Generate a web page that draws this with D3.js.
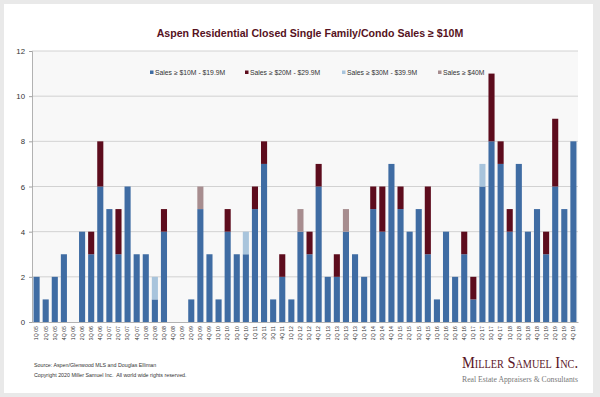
<!DOCTYPE html>
<html><head><meta charset="utf-8">
<script src="https://cdn.jsdelivr.net/npm/d3@7"></script>
<style>
html,body{margin:0;padding:0;background:#e9e9e9;}
svg{display:block;}
</style></head>
<body>
<svg id="chart" width="600" height="397"></svg>
<script>
const quarters = ["1Q 05","2Q 05","3Q 05","4Q 05","1Q 06","2Q 06","3Q 06","4Q 06","1Q 07","2Q 07","3Q 07","4Q 07",
"1Q 08","2Q 08","3Q 08","4Q 08","1Q 09","2Q 09","3Q 09","4Q 09","1Q 10","2Q 10","3Q 10","4Q 10",
"1Q 11","2Q 11","3Q 11","4Q 11","1Q 12","2Q 12","3Q 12","4Q 12","1Q 13","2Q 13","3Q 13","4Q 13",
"1Q 14","2Q 14","3Q 14","4Q 14","1Q 15","2Q 15","3Q 15","4Q 15","1Q 16","2Q 16","3Q 16","4Q 16",
"1Q 17","2Q 17","3Q 17","4Q 17","1Q 18","2Q 18","3Q 18","4Q 18","1Q 19","2Q 19","3Q 19","4Q 19"];
const sales10to19 = [2,1,2,3, 0,4,3,6, 5,3,6,3, 3,1,4,0, 0,1,5,3, 1,4,3,3, 5,7,1,2, 1,4,3,6, 2,2,4,3, 2,5,4,7, 5,4,5,3, 1,4,2,3, 1,6,8,7, 4,7,4,5, 3,6,5,8];
const sales20to29 = [0,0,0,0, 0,0,1,2, 0,2,0,0, 0,0,1,0, 0,0,0,0, 0,1,0,0, 1,1,0,1, 0,0,1,1, 0,1,0,0, 0,1,2,0, 1,0,0,3, 0,0,0,1, 1,0,3,1, 1,0,0,0, 1,3,0,0];
const sales30to39 = [0,0,0,0, 0,0,0,0, 0,0,0,0, 0,1,0,0, 0,0,0,0, 0,0,0,1, 0,0,0,0, 0,0,0,0, 0,0,0,0, 0,0,0,0, 0,0,0,0, 0,0,0,0, 0,1,0,0, 0,0,0,0, 0,0,0,0];
const sales40plus = [0,0,0,0, 0,0,0,0, 0,0,0,0, 0,0,0,0, 0,0,1,0, 0,0,0,0, 0,0,0,0, 0,1,0,0, 0,0,1,0, 0,0,0,0, 0,0,0,0, 0,0,0,0, 0,0,0,0, 0,0,0,0, 0,0,0,0];
const seriesNames = ["Sales \u2265 $10M - $19.9M","Sales \u2265 $20M - $29.9M","Sales \u2265 $30M - $39.9M","Sales \u2265 $40M"];
const seriesColors = ["#3f6ca3","#5d0c1d","#a8c4dc","#a78d8f"];
const yTicks = [0,2,4,6,8,10,12];

const svg = d3.select("#chart");
// card
svg.append("rect").attr("x",4).attr("y",4).attr("width",589).attr("height",389).attr("fill","#ffffff");

const m = {left:32, right:578, top:51, bottom:322};
const x = d3.scaleBand().domain(quarters).range([m.left, m.right]).paddingInner(0.33).paddingOuter(0.17);
const y = d3.scaleLinear().domain([0,12]).range([m.bottom, m.top]);

svg.append("rect").attr("x",m.left).attr("y",m.top).attr("width",m.right-m.left).attr("height",m.bottom-m.top).attr("fill","#f8f8f8");

// gridlines
svg.append("g").selectAll("line").data(yTicks.filter(d=>d>0)).join("line")
  .attr("x1",m.left).attr("x2",m.right).attr("y1",d=>y(d)).attr("y2",d=>y(d))
  .attr("stroke","#c8c8c8").attr("stroke-width",0.8);

// y axis
const yAxis = svg.append("g").attr("transform",`translate(${m.left},0)`)
  .call(d3.axisLeft(y).tickValues(yTicks).tickSize(3).tickPadding(4).tickFormat(d3.format("d")));
yAxis.select(".domain").attr("stroke","#a0a0a0").attr("stroke-width",0.8);
yAxis.selectAll(".tick line").attr("stroke","#a0a0a0");
yAxis.selectAll("text").attr("font-family","Liberation Sans, Arial, sans-serif").attr("font-size",7.8).attr("fill","#333");

// stacked bars
const rows = quarters.map((q,i)=>({q, s0:sales10to19[i], s1:sales20to29[i], s2:sales30to39[i], s3:sales40plus[i]}));
const stack = d3.stack().keys(["s0","s1","s2","s3"])(rows);
svg.append("g").selectAll("g").data(stack).join("g").attr("fill",(d,i)=>seriesColors[i])
  .selectAll("rect").data(d=>d).join("rect")
  .attr("x",d=>x(d.data.q)).attr("width",x.bandwidth())
  .attr("y",d=>y(d[1])).attr("height",d=>y(d[0])-y(d[1]));

// x axis
const xAxis = svg.append("g").attr("transform",`translate(0,${m.bottom})`)
  .call(d3.axisBottom(x).tickSize(0).tickPadding(3));
xAxis.select(".domain").attr("stroke","#a0a0a0").attr("stroke-width",0.8);
xAxis.selectAll("text").attr("font-family","Liberation Sans, Arial, sans-serif").attr("font-size",5.2).attr("fill","#333")
  .attr("text-anchor","end").attr("dy","0.35em")
  .attr("transform",function(){ return "translate(0,3) rotate(-90)"; })
  .attr("x",-1).attr("y",0);

// title
svg.append("text").attr("x",310).attr("y",37).attr("text-anchor","middle")
  .attr("font-family","Liberation Sans, Arial, sans-serif").attr("font-weight","bold").attr("font-size",10.6)
  .attr("fill","#561222").text("Aspen Residential Closed Single Family/Condo Sales \u2265 $10M");

// legend
const legX = [150,245,342,438];
const leg = svg.append("g").selectAll("g").data(seriesNames).join("g")
  .attr("transform",(d,i)=>`translate(${legX[i]},73)`);
leg.append("rect").attr("x",0).attr("y",-2.5).attr("width",3.5).attr("height",3.5).attr("fill",(d,i)=>seriesColors[i]);
leg.append("text").attr("x",5).attr("y",2.4).attr("font-family","Liberation Sans, Arial, sans-serif")
  .attr("font-size",6.8).attr("fill","#333").text(d=>d);

// footer
svg.append("text").attr("x",34).attr("y",367).attr("font-family","Liberation Sans, Arial, sans-serif")
  .attr("font-size",5.3).attr("fill","#333").text("Source: Aspen/Glenwood MLS and Douglas Elliman");
svg.append("text").attr("x",34).attr("y",377).attr("font-family","Liberation Sans, Arial, sans-serif")
  .attr("font-size",5.3).attr("fill","#333").attr("xml:space","preserve").text("Copyright 2020 Miller Samuel Inc.  All world wide rights reserved.");

svg.append("text").attr("x",578).attr("y",368).attr("text-anchor","end")
  .attr("font-family","Liberation Serif, Times New Roman, serif").attr("font-size",17)
  .attr("font-variant","small-caps").attr("fill","#5a1426")
  .attr("textLength",116).attr("lengthAdjust","spacingAndGlyphs").text("Miller Samuel Inc.");
svg.append("text").attr("x",578).attr("y",382).attr("text-anchor","end")
  .attr("font-family","Liberation Serif, Times New Roman, serif").attr("font-size",8.2)
  .attr("fill","#777").attr("textLength",116).attr("lengthAdjust","spacingAndGlyphs")
  .text("Real Estate Appraisers & Consultants");
</script>
</body></html>
